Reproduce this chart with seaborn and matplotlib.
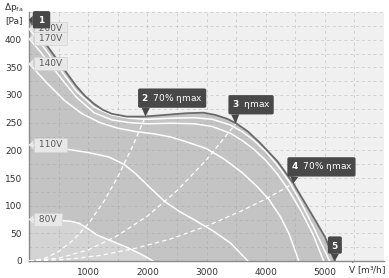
import seaborn as sns
import matplotlib.pyplot as plt
import pandas as pd
import numpy as np

# fan curves: airflow V [m3/h], pressure dp [Pa]
env_v = [0, 200, 500, 800, 950, 1100, 1250, 1400, 1650, 1950, 2300, 2650, 2950, 3150, 3350, 3500, 3700, 3900, 4200, 4470, 4770, 5000, 5170]
env_p = [436, 405, 360, 316, 298, 284, 273, 266, 261, 261, 264, 267, 268, 264, 257, 249, 234, 214, 180, 140, 86, 44, 0]

v200_v = [0, 200, 500, 800, 1100, 1400, 1700, 2000, 2400, 2800, 3100, 3400, 3600, 3800, 4000, 4200, 4400, 4600, 4800, 5080]
v200_p = [420, 393, 350, 307, 278, 264, 258, 256, 258, 259, 256, 246, 234, 218, 198, 173, 143, 105, 63, 0]

v170_v = [0, 200, 500, 800, 1100, 1400, 1700, 2000, 2400, 2800, 3100, 3400, 3600, 3800, 4000, 4200, 4400, 4600, 4800, 4980]
v170_p = [402, 377, 336, 296, 268, 255, 250, 248, 249, 248, 243, 231, 218, 202, 182, 157, 126, 90, 48, 0]

v140_v = [0, 300, 600, 900, 1200, 1500, 1800, 2100, 2400, 2700, 3000, 3300, 3600, 3850, 4050, 4250, 4400, 4560]
v140_p = [357, 322, 290, 266, 250, 240, 234, 230, 224, 214, 203, 184, 160, 135, 112, 80, 48, 0]

v110_v = [0, 400, 700, 1000, 1350, 1600, 1800, 2050, 2300, 2550, 2800, 3100, 3400, 3700]
v110_p = [210, 205, 201, 196, 188, 175, 158, 132, 107, 89, 74, 55, 33, 0]

v80_v = [0, 400, 700, 850, 1000, 1150, 1400, 1650, 1900, 2100]
v80_p = [75, 74, 72, 68, 58, 47, 36, 25, 12, 0]

# system (efficiency) lines from the origin to the marked points
eff2_v = [0, 250, 500, 750, 1000, 1250, 1500, 1750, 1967]
eff2_p = [0, 4, 17, 38, 67, 105, 152, 207, 261]
eff3_v = [0, 500, 1000, 1500, 2000, 2500, 3000, 3494]
eff3_p = [0, 5, 20, 46, 81, 127, 183, 248]
eff4_v = [0, 600, 1200, 1800, 2400, 3000, 3600, 4000, 4467]
eff4_p = [0, 2.5, 10, 23, 40, 63, 91, 112, 140]

voltages = ["200V", "170V", "140V", "110V", "80V"]
volt_start = [420, 402, 357, 210, 75]

points = ["1", "2", "3", "4", "5"]
point_text = ["", "70% ηmax", "ηmax", "70% ηmax", ""]
point_v = [0, 1967, 3494, 4467, 5170]
point_p = [436, 261, 248, 140, 0]

curves = pd.concat([
    pd.DataFrame({"V": v, "P": p, "curve": n})
    for n, v, p in [("200V", v200_v, v200_p), ("170V", v170_v, v170_p),
                    ("140V", v140_v, v140_p), ("110V", v110_v, v110_p),
                    ("80V", v80_v, v80_p)]
])
eff = pd.concat([
    pd.DataFrame({"V": v, "P": p, "curve": n})
    for n, v, p in [("2", eff2_v, eff2_p), ("3", eff3_v, eff3_p), ("4", eff4_v, eff4_p)]
])

sns.set_theme(style="white")
plt.rcParams["font.family"] = ["DejaVu Sans"]

fig = plt.figure(figsize=(3.89, 2.78), dpi=100)
ax = fig.add_axes([29 / 389, 17 / 278, 355 / 389, 249 / 278])
ax.set_facecolor("#f0f0f0")

ax.fill_between(env_v, env_p, 0, color="#c4c4c4", lw=0, zorder=1)
ax.fill_between(v80_v, v80_p, 0, color="#d4d4d4", lw=0, zorder=1.1)

sns.lineplot(data=curves, x="V", y="P", units="curve", estimator=None, sort=False,
             color="white", lw=1.1, ax=ax, zorder=3)
sns.lineplot(data=eff, x="V", y="P", units="curve", estimator=None, sort=False,
             color="white", lw=0.9, ls=(0, (3.5, 2.5)), ax=ax, zorder=3)
ax.plot(env_v, env_p, color="#6a6a6a", lw=1.3, zorder=4)

ax.set_xlim(0, 6000)
ax.set_ylim(0, 450)
ax.set_xticks([1000, 2000, 3000, 4000, 5000])
ax.set_xticks(np.arange(0, 6001, 500), minor=True)
ax.set_yticks(np.arange(0, 401, 50))
ax.set_yticks(np.arange(0, 451, 25), minor=True)
ax.grid(which="both", color="#9a9a9a", alpha=0.35, lw=0.7, ls=(0, (3, 3)))
ax.set_axisbelow("line")
ax.tick_params(length=0, which="both", labelsize=6.5, colors="#333333", pad=5)
ax.set_xlabel("")
ax.set_ylabel("")
for s in ["top", "right"]:
    ax.spines[s].set_visible(False)
for s in ["left", "bottom"]:
    ax.spines[s].set_color("#8a8a8a")
    ax.spines[s].set_linewidth(1)

# voltage callouts
for name, p in zip(voltages, volt_start):
    ax.annotate(" " + name + " ", xy=(0, p), xytext=(5, 0), textcoords="offset points",
                ha="left", va="center", fontsize=6.5, color="#5a5a5a",
                bbox=dict(boxstyle="square,pad=0.25", fc="#e8e8e8", ec="#d2d2d2", lw=0.5),
                arrowprops=dict(arrowstyle="wedge,tail_width=1.0", fc="#e8e8e8", ec="none",
                                shrinkA=0, shrinkB=0, relpos=(0, 0.5)),
                zorder=6)

# numbered point callouts
offsets = [(5, 0), (-3, 8.6), (-3, 9), (-2, 7.3), (0, 7.5)]
for num, txt, v, p, off in zip(points, point_text, point_v, point_p, offsets):
    if num == "1":
        label = r" $\mathbf{1}$ "
        ha, va, rel = "left", "center", (0, 0.5)
    elif num == "5":
        label = r"$\mathbf{5}$"
        ha, va, rel = "center", "bottom", (0.5, 0.5)
    else:
        label = r"$\mathbf{" + num + "}$  " + txt
        ha, va, rel = "left", "bottom", (0.08, 0.5)
    ax.annotate(label, xy=(v, p), xytext=off, textcoords="offset points",
                ha=ha, va=va, fontsize=6.5, color="white",
                bbox=dict(boxstyle="round,pad=0.35,rounding_size=0.2", fc="#484848", ec="none"),
                arrowprops=dict(arrowstyle="wedge,tail_width=0.9", fc="#484848", ec="none",
                                shrinkA=0, shrinkB=0, relpos=rel),
                zorder=7, annotation_clip=False)

fig.text(14 / 389, 1 - 13 / 278, "Δp$_{\\rm fa}$\n[Pa]", ha="center", va="center",
         fontsize=6.5, color="#333333", linespacing=1.2)
fig.text(367 / 389, 1 - 269 / 278, r"$\dot{\rm V}$ [m³/h]", ha="center", va="center",
         fontsize=6.5, color="#333333")

fig.savefig("out.png", dpi=100)
